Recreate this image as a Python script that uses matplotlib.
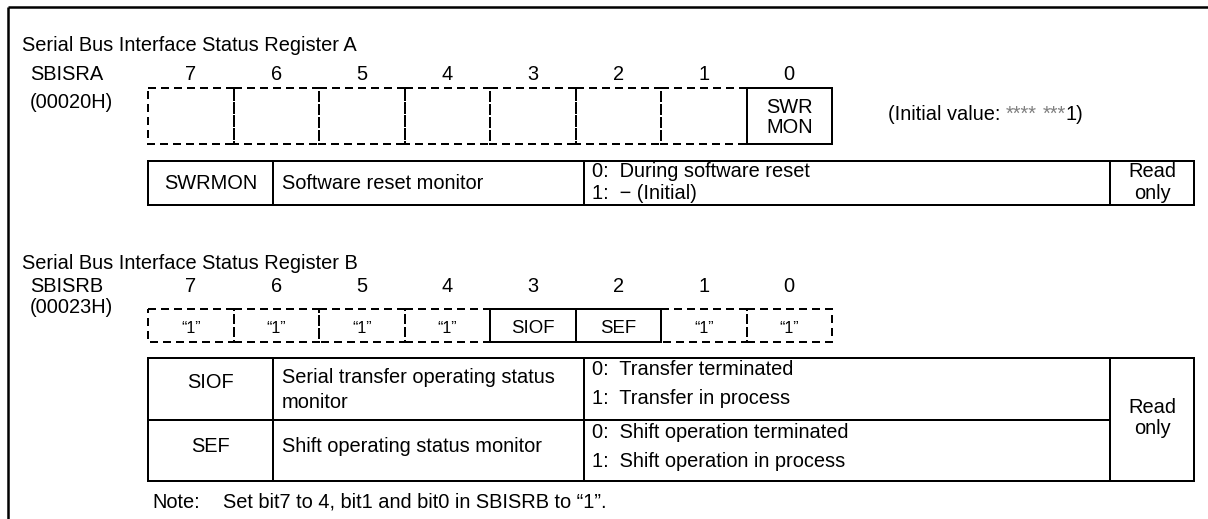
import matplotlib
matplotlib.use("Agg")
import matplotlib.pyplot as plt
from matplotlib.patches import Rectangle

plt.rcParams['font.family'] = ['Liberation Sans', 'DejaVu Sans']

# register data
bit_numbers = ["7", "6", "5", "4", "3", "2", "1", "0"]

reg_a_title = "Serial Bus Interface Status Register A"
reg_a_name = "SBISRA"
reg_a_addr = "(00020H)"
reg_a_labels = ["", "", "", "", "", "", "", "SWR\nMON"]
reg_a_used = [False, False, False, False, False, False, False, True]

reg_b_title = "Serial Bus Interface Status Register B"
reg_b_name = "SBISRB"
reg_b_addr = "(00023H)"
reg_b_labels = ["\u201c1\u201d", "\u201c1\u201d", "\u201c1\u201d", "\u201c1\u201d",
                "SIOF", "SEF", "\u201c1\u201d", "\u201c1\u201d"]
reg_b_used = [False, False, False, False, True, True, False, False]

# description tables
table_a_fields = ["SWRMON"]
table_a_names = [["Software reset monitor"]]
table_a_values = [["0:  During software reset", "1:  \u2212 (Initial)"]]

table_b_fields = ["SIOF", "SEF"]
table_b_names = [["Serial transfer operating status", "monitor"],
                 ["Shift operating status monitor"]]
table_b_values = [["0:  Transfer terminated", "1:  Transfer in process"],
                  ["0:  Shift operation terminated", "1:  Shift operation in process"]]

access_text = ["Read", "only"]
note_text = "Set bit7 to 4, bit1 and bit0 in SBISRB to \u201c1\u201d."

FS = 14.4
LW = 1.44

fig = plt.figure(figsize=(12.08, 5.19), dpi=100)
ax = fig.add_axes([0, 0, 1, 1])
ax.set_xlim(0, 1208)
ax.set_ylim(519, 0)
ax.axis('off')

# outer frame (top and left edges)
ax.plot([8, 1208], [7, 7], color='black', lw=1.8, solid_capstyle='butt')
ax.plot([8, 8], [7, 519], color='black', lw=1.8, solid_capstyle='butt')

box_x0 = 148
box_w = 85.5
col_x = [148, 273, 584, 1110, 1194]


def draw_register(title, name, addr, labels, used, y_title, y_name, y_addr,
                  y_top, y_bot, label_fs, label_base):
    ax.text(22, y_title, title, fontsize=FS, va='baseline')
    ax.text(30, y_name, name, fontsize=FS, va='baseline')
    ax.text(30, y_addr, addr, fontsize=FS, va='baseline')
    for i, b in enumerate(bit_numbers):
        cx = box_x0 + box_w * (i + 0.5)
        ax.text(cx, y_name, b, fontsize=FS, ha='center', va='baseline')
    # dashed (unused) bits first, solid ones on top
    for i in range(8):
        if not used[i]:
            ax.add_patch(Rectangle((box_x0 + box_w * i, y_top), box_w, y_bot - y_top,
                                   fill=False, lw=LW, ls=(0, (4, 2.5)), ec='black'))
    for i in range(8):
        if used[i]:
            ax.add_patch(Rectangle((box_x0 + box_w * i, y_top), box_w, y_bot - y_top,
                                   fill=False, lw=LW, ec='black', zorder=3))
    for i, lab in enumerate(labels):
        if not lab:
            continue
        cx = box_x0 + box_w * (i + 0.5)
        lines = lab.split("\n")
        if len(lines) == 2:
            ax.text(cx, label_base[0], lines[0], fontsize=FS, ha='center', va='baseline')
            ax.text(cx, label_base[1], lines[1], fontsize=FS, ha='center', va='baseline')
        else:
            fs = label_fs if used[i] else 11.5
            ax.text(cx, label_base[0], lab, fontsize=fs, ha='center', va='baseline',
                    zorder=4)


def draw_table(fields, names, values, rows, name_base, val_base, field_base, access_base):
    top, bot = rows[0], rows[-1]
    ax.add_patch(Rectangle((col_x[0], top), col_x[-1] - col_x[0], bot - top,
                           fill=False, lw=LW, ec='black'))
    for x in col_x[1:-1]:
        ax.plot([x, x], [top, bot], color='black', lw=LW)
    for y in rows[1:-1]:
        ax.plot([col_x[0], col_x[3]], [y, y], color='black', lw=LW)
    for k, f in enumerate(fields):
        ax.text((col_x[0] + col_x[1]) / 2, field_base[k], f, fontsize=FS,
                ha='center', va='baseline')
        for j, s in enumerate(names[k]):
            ax.text(col_x[1] + 9, name_base[k][j], s, fontsize=FS, va='baseline')
        for j, s in enumerate(values[k]):
            ax.text(col_x[2] + 8, val_base[k][j], s, fontsize=FS, va='baseline')
    for j, s in enumerate(access_text):
        ax.text((col_x[3] + col_x[4]) / 2, access_base[j], s, fontsize=FS,
                ha='center', va='baseline')


# register A
draw_register(reg_a_title, reg_a_name, reg_a_addr, reg_a_labels, reg_a_used,
              51, 80, 108, 88, 144, FS, [113, 133])

# initial value, asterisks drawn grey
fig.canvas.draw()
rend = fig.canvas.get_renderer()
parts = [("(Initial value:", 'black', 5), ("****", '#808080', 6),
         ("***", '#808080', 0), ("1)", 'black', 0)]
x = 888
for s, c, gap in parts:
    t = ax.text(x, 120, s, fontsize=FS, color=c, va='baseline')
    x += t.get_window_extent(renderer=rend).width + gap

draw_table(table_a_fields, table_a_names, table_a_values, [161, 205],
           [[189]], [[177, 199]], [189], [177, 199])

# register B
draw_register(reg_b_title, reg_b_name, reg_b_addr, reg_b_labels, reg_b_used,
              269, 292, 313, 309, 342, 13.4, [333])

draw_table(table_b_fields, table_b_names, table_b_values, [358, 420, 481],
           [[383, 408], [452]], [[375, 404], [438, 467]], [388, 452], [413, 434])

ax.text(152, 508, "Note:", fontsize=FS, va='baseline')
ax.text(223, 508, note_text, fontsize=FS, va='baseline')

fig.savefig("out.png", dpi=100)
